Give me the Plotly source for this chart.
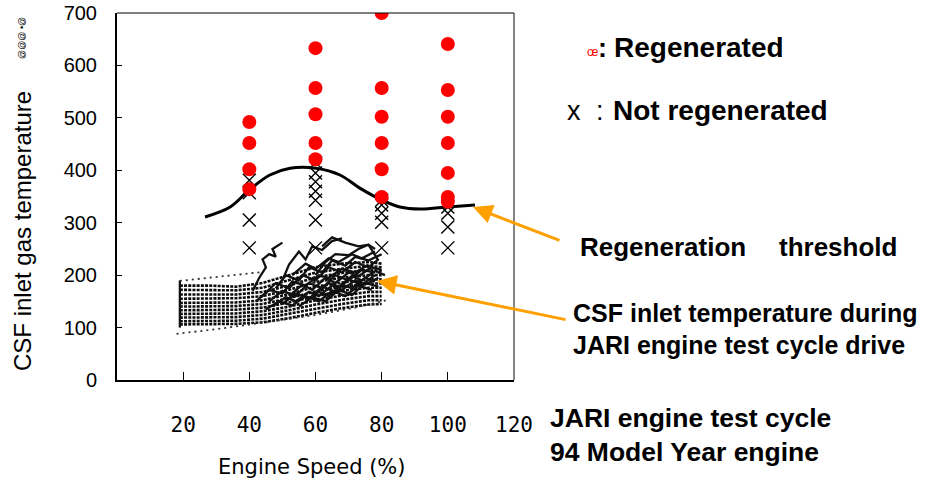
import plotly.graph_objects as go

# ---------------- data ----------------
regen_x = [40, 40, 40, 40,
           60, 60, 60, 60, 60,
           80, 80, 80, 80, 80, 80,
           100, 100, 100, 100, 100, 100, 100]
regen_y = [492, 452, 402, 364,
           633, 557, 507, 452, 421,
           700, 557, 502, 452, 402, 349,
           641, 553, 502, 452, 395, 349, 340]

notregen_x = [40, 40, 40, 40,
              60, 60, 60, 60, 60, 60, 60,
              80, 80, 80, 80, 80,
              100, 100, 100, 100]
notregen_y = [381, 357, 305, 252,
              415, 395, 378, 360, 343, 305, 252,
              343, 334, 318, 301, 252,
              330, 318, 292, 252]

thresh_x = [26.6, 34.2, 39.9, 46.2, 52.3, 60.2, 67.4, 73.4, 80.1, 85.5, 91.6, 100, 108.2]
thresh_y = [311, 330, 362, 391, 404, 404, 391, 366, 343, 330, 326, 330, 334]

# JARI drive-cycle cloud (hand-read polylines)
band_x = [19, 28, 36, 44, 52, 60, 68, 76, 80]
band_lines = [
    [180, 180, 178, 185, 200, 215, 222, 225, 222],
    [172, 172, 171, 176, 190, 205, 212, 218, 215],
    [163, 163, 163, 168, 180, 196, 204, 210, 208],
    [155, 155, 156, 160, 172, 187, 195, 200, 200],
    [147, 147, 148, 152, 164, 178, 186, 192, 192],
    [140, 140, 141, 145, 156, 169, 178, 184, 184],
    [133, 133, 134, 138, 148, 160, 170, 176, 176],
    [126, 126, 127, 131, 140, 152, 161, 168, 168],
    [119, 119, 120, 124, 133, 144, 153, 160, 160],
    [112, 112, 113, 117, 126, 136, 145, 152, 152],
    [106, 106, 107, 110, 118, 128, 137, 144, 145],
]
scribbles = [
    ([19, 19], [190, 100]),
    ([41, 43, 45, 44, 46, 48, 47, 50], [170, 195, 215, 230, 240, 235, 250, 262]),
    ([50, 52, 55, 57, 59, 62, 65, 68], [190, 220, 245, 230, 255, 248, 265, 270]),
    ([60, 63, 66, 70, 73, 76, 78], [200, 225, 240, 238, 250, 258, 250]),
    ([62, 65, 69, 73, 76, 79], [255, 272, 262, 255, 258, 228]),
    ([44, 48, 52, 56, 60, 64, 68, 72, 76, 79], [160, 185, 175, 200, 190, 215, 205, 225, 215, 230]),
    ([46, 50, 54, 58, 62, 66, 70, 74, 78], [150, 170, 160, 185, 175, 200, 190, 210, 205]),
    ([50, 54, 58, 62, 66, 70, 74, 78], [145, 165, 155, 178, 168, 192, 182, 200]),
    ([55, 59, 63, 67, 71, 75, 79], [140, 158, 150, 172, 162, 185, 178]),
    ([45, 49, 53, 57, 61, 65, 69, 73, 77], [135, 150, 142, 160, 150, 170, 160, 180, 172]),
    ([48, 51, 55, 58, 62, 65, 69, 72, 76, 80], [175, 200, 190, 215, 205, 228, 218, 235, 228, 240]),
    ([52, 56, 59, 63, 66, 70, 73, 77, 80], [160, 182, 172, 195, 185, 205, 198, 215, 210]),
    ([57, 61, 64, 68, 71, 75, 78], [150, 168, 160, 182, 175, 195, 188]),
    ([60, 64, 67, 71, 74, 78, 81], [165, 185, 178, 198, 190, 208, 200]),
    ([47, 51, 54, 58, 61, 65, 68, 72, 75, 79], [140, 158, 150, 168, 160, 180, 172, 190, 182, 195]),
    ([42, 46, 50, 53, 57, 61, 64, 68, 72, 76], [150, 172, 165, 188, 180, 200, 195, 212, 205, 220]),
    ([53, 57, 60, 64, 67, 71, 74, 78], [200, 222, 212, 232, 225, 240, 232, 245]),
]
sparse_lines = [
    ([19, 30, 44], [189, 196, 206]),
    ([18, 30, 45, 60, 72, 82], [88, 97, 110, 124, 138, 153]),
]

x_ticks = [20, 40, 60, 80, 100, 120]
y_ticks = [0, 100, 200, 300, 400, 500, 600, 700]

# ---------------- figure ----------------
W, H = 928, 484
L, R, T, B = 117, 514, 13, 380


def px(xp):
    return (xp - L) / (R - L)


def py(yp):
    return (B - yp) / (B - T)


def join(lines):
    xs, ys = [], []
    for lx, ly in lines:
        xs += list(lx) + [None]
        ys += list(ly) + [None]
    return xs, ys


fig = go.Figure()

bx, by = join([(band_x, ln) for ln in band_lines])
fig.add_trace(go.Scatter(x=bx, y=by, mode="lines",
                         line=dict(color="#0d0d0d", width=2.6, dash="3px,1.2px"),
                         hoverinfo="skip", showlegend=False))
sx, sy = join(scribbles)
fig.add_trace(go.Scatter(x=sx, y=sy, mode="lines",
                         line=dict(color="#111111", width=2.3),
                         hoverinfo="skip", showlegend=False))
spx, spy = join(sparse_lines)
fig.add_trace(go.Scatter(x=spx, y=spy, mode="lines",
                         line=dict(color="#333333", width=1.8, dash="2px,4px"),
                         hoverinfo="skip", showlegend=False))

fig.add_trace(go.Scatter(x=notregen_x, y=notregen_y, mode="markers",
                         marker=dict(symbol="x-thin", size=13,
                                     line=dict(color="black", width=1.4)),
                         showlegend=False))
fig.add_trace(go.Scatter(x=thresh_x, y=thresh_y, mode="lines",
                         line=dict(color="black", width=3, shape="spline"),
                         showlegend=False))
fig.add_trace(go.Scatter(x=regen_x, y=regen_y, mode="markers",
                         marker=dict(color="#FF0000", size=14),
                         showlegend=False))

fig.update_layout(
    width=W, height=H,
    margin=dict(l=L, r=W - R, t=T, b=H - B, autoexpand=False),
    paper_bgcolor="white", plot_bgcolor="white",
    showlegend=False,
    xaxis=dict(range=[0, 120], tickvals=x_ticks, ticktext=[str(v) for v in x_ticks],
               ticks="inside", ticklen=8, tickcolor="black", tickwidth=1,
               showline=True, linecolor="black", linewidth=2, automargin=False,
               showgrid=False, zeroline=False, ticklabelstandoff=25,
               tickfont=dict(family="DejaVu Sans Mono", size=21, color="black")),
    yaxis=dict(range=[0, 700], tickvals=y_ticks, ticktext=[str(v) for v in y_ticks],
               ticks="inside", ticklen=5, tickcolor="black", tickwidth=1,
               showline=True, linecolor="black", linewidth=2, automargin=False,
               showgrid=False, zeroline=False, ticklabelstandoff=14,
               tickfont=dict(family="Liberation Sans, Arial", size=20, color="black")),
)

# top and right frame lines (thin)
fig.add_shape(type="line", xref="paper", yref="paper", x0=0, x1=1, y0=1, y1=1,
              line=dict(color="black", width=1.2))
fig.add_shape(type="line", xref="paper", yref="paper", x0=1, x1=1, y0=0, y1=1,
              line=dict(color="#333333", width=1.2))

BOLD = "Liberation Sans, Arial"


def text(xp, yp, s, size=26, family=BOLD, color="black", xanchor="left", angle=0):
    fig.add_annotation(xref="paper", yref="paper", x=px(xp), y=py(yp), text=s,
                       showarrow=False, xanchor=xanchor, yanchor="middle",
                       textangle=angle, borderpad=0,
                       font=dict(family=family, size=size, color=color))


# axis titles
text(22, 231, "CSF inlet gas temperature", size=24, xanchor="center", angle=-90)
text(22, 38, "@@@ •@", size=9, xanchor="center", angle=-90)
text(312, 467, "Engine Speed (%)", size=21, family="DejaVu Sans", xanchor="center")

# legend-like texts
text(586, 52, "œ", size=12, color="#FF0000")
text(597, 48, "<b>:</b>", size=27)
text(613, 48, "<b>Regenerated</b>", size=28)
text(566, 111, "x", size=27)
text(595, 111, ":", size=27)
text(612, 111, "<b>Not regenerated</b>", size=28)
text(579, 247, "<b>Regeneration</b>", size=26)
text(778, 247, "<b>threshold</b>", size=26)
text(572, 313, "<b>CSF inlet temperature during</b>", size=25)
text(572, 345, "<b>JARI engine test cycle drive</b>", size=25)
text(549, 418, "<b>JARI engine test cycle</b>", size=26.5)
text(549, 452, "<b>94 Model Year engine</b>", size=26.5)

# arrows
ORANGE = "#FF9F00"
fig.add_annotation(x=107.6, y=330, xref="x", yref="y", text="", showarrow=True,
                   ax=88, ay=34, arrowhead=2, arrowsize=1.3, arrowwidth=3,
                   arrowcolor=ORANGE)
fig.add_annotation(x=78.6, y=189, xref="x", yref="y", text="", showarrow=True,
                   ax=190, ay=39, arrowhead=2, arrowsize=1.3, arrowwidth=3,
                   arrowcolor=ORANGE)

fig.write_html("out.html")
